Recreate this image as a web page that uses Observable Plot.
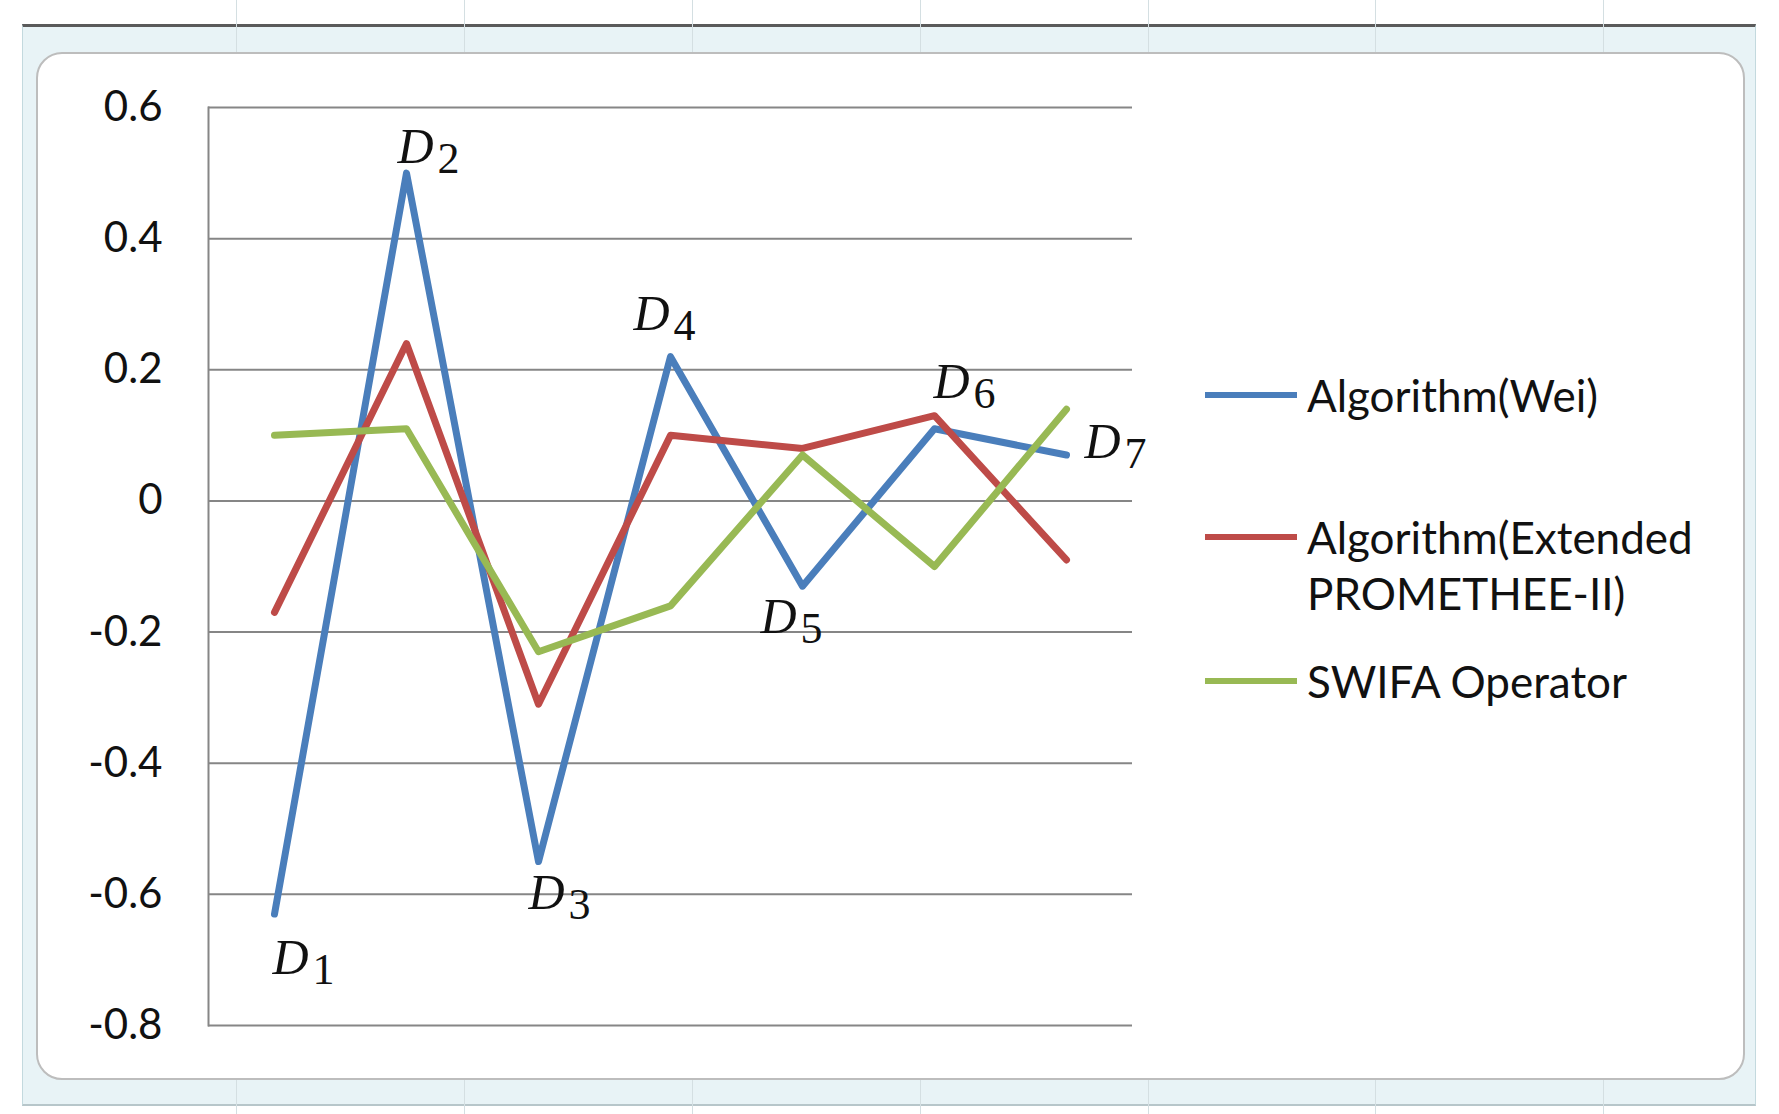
<!DOCTYPE html>
<html><head><meta charset="utf-8">
<script src="https://cdn.jsdelivr.net/npm/d3@7"></script>
<script src="https://cdn.jsdelivr.net/npm/@observablehq/plot@0.6"></script>
<style>
body{margin:0;background:#fff;}
#wrap{position:relative;width:1779px;height:1114px;overflow:hidden;background:#fff;font-family:Lato,sans-serif;}
.band{position:absolute;left:22px;top:24px;width:1734px;height:1082px;background:#e8f3f6;border-top:3px solid #5a5a5a;border-bottom:2px solid #b7c6ca;border-left:1px solid #c3d9de;border-right:1px solid #c3d9de;box-sizing:border-box;}
.area{position:absolute;left:36px;top:52px;width:1709px;height:1028px;background:#fff;border:2px solid #bdbdbd;border-radius:26px;box-sizing:border-box;}
.vg{position:absolute;width:1px;background:#d4dfe2;}
#chart{position:absolute;left:0;top:0;}
.lg{position:absolute;left:1205px;}
.sw{position:absolute;left:0;top:25px;width:92px;height:6px;}
.lt{position:absolute;left:102px;top:0;width:430px;font-family:Lato,sans-serif;font-size:44px;line-height:56px;color:#111;white-space:normal;}
</style></head><body>
<div id="wrap">
  <div class="band"></div>
  <div class="area"></div>
  <div id="chart"></div>
  <div id="legend"></div>
</div>
<script>
// ---- data ----
const categories = ["D1", "D2", "D3", "D4", "D5", "D6", "D7"];
const subscripts = ["1", "2", "3", "4", "5", "6", "7"];
const seriesNames = ["Algorithm(Wei)", "Algorithm(Extended PROMETHEE-II)", "SWIFA Operator"];
const wei      = [-0.63, 0.50, -0.55, 0.22, -0.13, 0.11, 0.07];
const extended = [-0.17, 0.24, -0.31, 0.10, 0.08, 0.13, -0.09];
const swifa    = [0.10, 0.11, -0.23, -0.16, 0.07, -0.10, 0.14];
const yTicks = [-0.8, -0.6, -0.4, -0.2, 0, 0.2, 0.4, 0.6];

// ---- styling ----
const colors = ["#4A7EBB", "#BE4B48", "#98B954"];
const gridColor = "#868686";

const seriesValues = [wei, extended, swifa];
const rows = [];
seriesValues.forEach((vals, s) => vals.forEach((v, i) => rows.push({series: seriesNames[s], cat: categories[i], value: v})));

// label placement (pixel offsets from the blue point)
const labelOffsets = [[-2, 60], [-9, -10], [-10, 47], [-37, -27], [-42, 47], [-1, -31], [18, 3]];
const labelMarks = [];
categories.forEach((c, i) => {
  const [dx, dy] = labelOffsets[i];
  labelMarks.push(Plot.text([i], {x: () => c, y: () => wei[i], text: () => "D", dx, dy,
    textAnchor: "start", lineAnchor: "bottom", fontSize: 50, fontFamily: "Liberation Serif", fontStyle: "italic", fill: "#111"}));
  labelMarks.push(Plot.text([i], {x: () => c, y: () => wei[i], text: () => subscripts[i], dx: dx + 40, dy: dy + 10,
    textAnchor: "start", lineAnchor: "bottom", fontSize: 44, fontFamily: "Liberation Serif", fill: "#111"}));
});

const chart = Plot.plot({
  width: 1779, height: 1114,
  marginLeft: 208, marginRight: 647, marginTop: 107, marginBottom: 89,
  style: {background: "transparent", overflow: "visible"},
  x: {type: "point", domain: categories, padding: 0.5, axis: null},
  y: {domain: [-0.8, 0.6], axis: null},
  color: {domain: seriesNames, range: colors},
  marks: [
    Plot.ruleY(yTicks, {stroke: gridColor, strokeWidth: 2}),
    Plot.frame({anchor: "left", stroke: gridColor, strokeWidth: 2}),
    Plot.axisY(yTicks, {tickSize: 0, tickPadding: 46, fontSize: 42, fontFamily: "Lato", fill: "#111", label: null,
      tickFormat: d => String(Math.round(d * 10) / 10)}),
    Plot.line(rows, {x: "cat", y: "value", z: "series", stroke: "series", strokeWidth: 7, strokeLinejoin: "round"}),
    ...labelMarks
  ]
});
document.getElementById("chart").appendChild(chart);

// legend
const legendCenters = [395, 537, 681];
const legend = document.getElementById("legend");
seriesNames.forEach((name, i) => {
  const d = document.createElement("div");
  d.className = "lg";
  d.style.top = (legendCenters[i] - 28) + "px";
  const sw = document.createElement("div");
  sw.className = "sw"; sw.style.background = colors[i];
  const t = document.createElement("div");
  t.className = "lt"; t.textContent = name;
  d.appendChild(sw); d.appendChild(t);
  legend.appendChild(d);
});

// faint spreadsheet column lines in the frame band
const wrap = document.getElementById("wrap");
[236, 464, 692, 920, 1148, 1375, 1603].forEach(x => {
  [[0, 52], [1080, 1114]].forEach(([a, b]) => {
    const l = document.createElement("div");
    l.className = "vg"; l.style.left = x + "px"; l.style.top = a + "px"; l.style.height = (b - a) + "px";
    wrap.insertBefore(l, document.getElementById("chart"));
  });
});
</script>
</body></html>
